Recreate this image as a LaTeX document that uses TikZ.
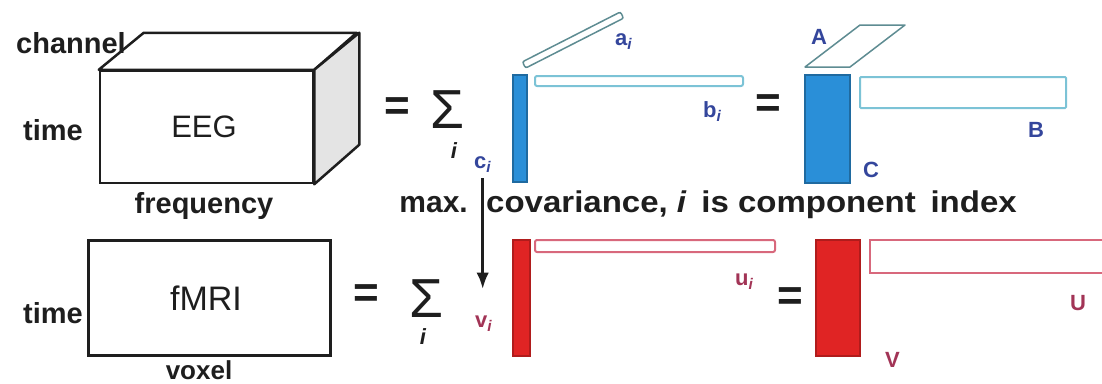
\documentclass[tikz,border=0pt]{standalone}
\usepackage{fontspec}
\setmainfont{Liberation Sans}
\usepackage{tikz}
\usetikzlibrary{arrows.meta,positioning,calc}

\definecolor{inkgray}{HTML}{1E1E1E}
\definecolor{cubeface}{HTML}{E4E4E4}
\definecolor{compblue}{HTML}{2A8FD8}
\definecolor{compblueedge}{HTML}{1F6AA0}
\definecolor{loadteal}{HTML}{7CC3D6}
\definecolor{loadgray}{HTML}{5E8C92}
\definecolor{lblblue}{HTML}{34469C}
\definecolor{compred}{HTML}{E02424}
\definecolor{compredge}{HTML}{B01C1C}
\definecolor{loadred}{HTML}{D8687C}
\definecolor{lblred}{HTML}{A23456}

\begin{document}
\begin{tikzpicture}[
  x=1pt, y=-1pt,
  >=Latex,
  axislbl/.style={font=\fontsize{29}{30}\selectfont\bfseries, text=inkgray, inner sep=0pt, anchor=base},
  datalbl/.style={font=\fontsize{31}{32}\selectfont, text=inkgray, inner sep=0pt},
  eqsign/.style={font=\fontsize{44}{44}\selectfont\bfseries, text=inkgray, inner sep=0pt},
  sumsign/.style={font=\fontsize{55}{55}\selectfont, text=inkgray, inner sep=0pt},
  sumidx/.style={font=\fontsize{22}{22}\selectfont\bfseries\itshape, text=inkgray, inner sep=0pt},
  bluelbl/.style={font=\fontsize{22}{22}\selectfont\bfseries, text=lblblue, inner sep=0pt, anchor=base west},
  redlbl/.style={font=\fontsize{22}{22}\selectfont\bfseries, text=lblred, inner sep=0pt, anchor=base west},
  bluebar/.style={draw=compblueedge, fill=compblue, line width=1.5pt, inner sep=0pt},
  redbar/.style={draw=compredge, fill=compred, line width=1.5pt, inner sep=0pt},
  loadbar/.style={fill=white, line width=2pt, rounded corners=2pt, inner sep=0pt}
]
\useasboundingbox (0,0) rectangle (1102,383);

\node[draw=inkgray, line width=2.5pt, minimum width=213pt, minimum height=112pt] (eeg) at (206.5,127) {};
\draw[draw=inkgray, line width=2.5pt, line join=round, fill=white] (eeg.north west) -- ++(45,-37) -- ++(213,0) -- (eeg.north east) -- cycle;
\draw[draw=inkgray, line width=2.5pt, line join=round, fill=cubeface] (eeg.north east) -- ++(45,-37) -- ++(0,112) -- (eeg.south east) -- cycle;
\node[datalbl, anchor=base] (eegname) at (204,137) {EEG};
\node[axislbl] (chan) at (71,53) {channel};
\node[axislbl] (eegtime) at (53,140) {time};
\node[axislbl] (freq) at (204,213) {frequency};

\node[draw=inkgray, line width=3pt, minimum width=242pt, minimum height=115pt] (fmri) at (209,297.5) {};
\node[datalbl, anchor=base, font=\fontsize{34}{34}\selectfont] (fmriname) at (206,310) {fMRI};
\node[axislbl] (fmritime) at (53,323) {time};
\node[axislbl, font=\fontsize{26}{26}\selectfont\bfseries] (voxel) at (199,379) {voxel};

\node[eqsign] (eqa) at (397,109) {=};
\node[sumsign] (suma) at (447,110) {Σ};
\node[sumidx] (idxa) at (454,151) {i};
\node[eqsign] (eqb) at (366,296) {=};
\node[sumsign] (sumb) at (426,299) {Σ};
\node[sumidx] (idxb) at (423,337) {i};

\node[loadbar, draw=loadgray, line width=1.5pt, rotate=27, minimum width=110pt, minimum height=7pt] (avec) at (573,40) {};
\node[loadbar, draw=loadteal, minimum width=208pt, minimum height=10pt] (bvec) at (639,81) {};
\node[bluebar, minimum width=14pt, minimum height=107pt] (cvec) at (520,128.5) {};
\node[bluelbl] (ai) at (615,45) {a\textsubscript{\itshape i}};
\node[bluelbl] (bi) at (703,117) {b\textsubscript{\itshape i}};
\node[bluelbl] (ci) at (474,168) {c\textsubscript{\itshape i}};

\node[eqsign] (eqc) at (768,106) {=};
\draw[draw=loadgray, line width=1.5pt, fill=white, line join=round] (805,67) -- (850,67) -- (905,25) -- (860,25) -- cycle;
\node[bluebar, minimum width=45pt, minimum height=108pt] (cmat) at (827.5,129) {};
\node[loadbar, draw=loadteal, rounded corners=1pt, minimum width=206pt, minimum height=31pt] (bmat) at (963,92.5) {};
\node[bluelbl] (amatlbl) at (811,44) {A};
\node[bluelbl] (bmatlbl) at (1028,137) {B};
\node[bluelbl] (cmatlbl) at (863,177) {C};

\node[axislbl, font=\fontsize{30}{30}\selectfont\bfseries, anchor=base east] (maxlbl) at (468,212) {max.};
\node[axislbl, font=\fontsize{30}{30}\selectfont\bfseries, anchor=base west] (covlbl) at (486,212) {\scalebox{1.1}[1]{covariance, \textit{i}\, is component\, index}};

\node[redbar, minimum width=17pt, minimum height=116pt] (vvec) at (521.5,298) {};
\node[loadbar, draw=loadred, minimum width=240pt, minimum height=12pt] (uvec) at (655,246) {};
\node[redlbl] (vi) at (475,327) {v\textsubscript{\itshape i}};
\node[redlbl] (ui) at (735,285) {u\textsubscript{\itshape i}};

\node[eqsign] (eqd) at (790,299) {=};
\node[redbar, minimum width=44pt, minimum height=116pt] (vmat) at (838,298) {};
\draw[draw=loadred, line width=2pt, fill=white] (1106,240) -- (870,240) -- (870,273) -- (1106,273);
\node[redlbl] (vmatlbl) at (885,367) {V};
\node[redlbl] (umatlbl) at (1070,310) {U};

\draw[->, line width=3pt, draw=inkgray, shorten <=6pt, shorten >=26pt] (ci) -- (ci |- vi.north);
\end{tikzpicture}
\end{document}
